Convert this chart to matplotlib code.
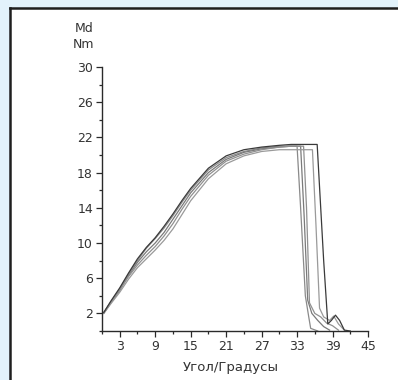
import matplotlib
matplotlib.use('Agg')
import matplotlib.pyplot as plt
from matplotlib.lines import Line2D
from matplotlib.patches import Rectangle
from matplotlib.ticker import MultipleLocator, FixedLocator

# angle (degrees) for the rising part, shared by all curves
rise_x = [0.3, 1.5, 3, 4.5, 6, 7.5, 9, 10.5, 12, 13.5, 15, 18, 21, 24, 27, 30, 32]

rise_y1 = [2.1, 3.3, 4.8, 6.5, 8.0, 9.4, 10.5, 11.7, 13.1, 14.6, 16.0, 18.3, 19.7, 20.4, 20.8, 21.0, 21.0]
rise_y2 = [2.0, 3.2, 4.6, 6.3, 7.8, 9.0, 10.0, 11.2, 12.7, 14.2, 15.7, 18.0, 19.5, 20.3, 20.7, 20.9, 21.0]
rise_y3 = [2.1, 3.3, 4.7, 6.2, 7.5, 8.6, 9.6, 10.8, 12.2, 13.8, 15.3, 17.7, 19.3, 20.1, 20.6, 20.9, 21.0]
rise_y4 = [2.0, 3.1, 4.4, 5.9, 7.2, 8.2, 9.2, 10.3, 11.6, 13.2, 14.8, 17.3, 19.0, 19.9, 20.4, 20.6, 20.6]
rise_y5 = [2.1, 3.4, 4.9, 6.6, 8.2, 9.5, 10.6, 11.9, 13.3, 14.8, 16.2, 18.5, 19.9, 20.6, 20.9, 21.1, 21.2]

# plateau end and fall to zero for each curve
fall_x1 = [33.0, 33.6, 34.4, 35.0, 35.3, 36.5]
fall_y1 = [21.0, 14.0, 4.0, 1.5, 0.3, 0.0]
fall_x2 = [33.6, 34.2, 34.8, 35.5, 36.5, 37.5, 38.5]
fall_y2 = [21.0, 13.0, 3.5, 2.0, 1.2, 0.5, 0.1]
fall_x3 = [34.1, 34.6, 35.1, 36.0, 37.0, 38.0, 39.0, 40.0]
fall_y3 = [21.0, 14.0, 3.2, 2.0, 1.6, 0.9, 0.6, 0.1]
fall_x4 = [35.6, 36.2, 36.8, 37.5, 38.5, 39.2, 40.0, 41.0]
fall_y4 = [20.6, 12.0, 2.6, 1.6, 1.2, 1.7, 0.8, 0.1]
fall_x5 = [36.4, 37.5, 38.2, 38.8, 39.5, 40.2, 41.0, 42.0]
fall_y5 = [21.2, 8.0, 0.8, 1.2, 1.8, 1.2, 0.1, 0.0]

curves = [
    (rise_x + fall_x1, rise_y1 + fall_y1, '#8a8a8a'),
    (rise_x + fall_x2, rise_y2 + fall_y2, '#7a7a7a'),
    (rise_x + fall_x3, rise_y3 + fall_y3, '#909090'),
    (rise_x + fall_x4, rise_y4 + fall_y4, '#9a9a9a'),
    (rise_x + fall_x5, rise_y5 + fall_y5, '#3a3a3a'),
]

x_major = [3, 9, 15, 21, 27, 33, 39, 45]
y_major = [2, 6, 10, 14, 18, 22, 26, 30]

W, H = 398, 380
fig = plt.figure(figsize=(W / 100, H / 100), dpi=100)
fig.patch.set_facecolor('#e2f2fb')

# white panel with dark frame on left and top
fig.patches.append(Rectangle((10 / W, 0), 1, 1 - 8 / H, transform=fig.transFigure,
                             facecolor='white', edgecolor='none', zorder=-2))
fig.lines.append(Line2D([10 / W, 10 / W], [0, 1 - 8 / H], transform=fig.transFigure,
                        color='#1e1e1e', lw=1.8, zorder=-1))
fig.lines.append(Line2D([10 / W, 1], [1 - 8 / H, 1 - 8 / H], transform=fig.transFigure,
                        color='#1e1e1e', lw=1.8, zorder=-1))

ax = fig.add_axes([102 / W, 1 - 331 / H, 266 / W, 264 / H])
ax.set_zorder(1)
ax.set_facecolor('none')

for xs, ys, c in curves:
    ax.plot(xs, ys, color=c, lw=0.9, solid_joinstyle='round')

ax.set_xlim(0, 45)
ax.set_ylim(0, 30)

for s in ['top', 'right']:
    ax.spines[s].set_visible(False)
for s in ['left', 'bottom']:
    ax.spines[s].set_color('#2a2a2a')
    ax.spines[s].set_linewidth(1.0)

ax.xaxis.set_major_locator(FixedLocator(x_major))
ax.xaxis.set_minor_locator(MultipleLocator(3))
ax.yaxis.set_major_locator(FixedLocator(y_major))
ax.yaxis.set_minor_locator(MultipleLocator(2))

ax.tick_params(which='major', direction='out', length=4.5, width=0.9,
               color='#2a2a2a', labelcolor='#333333', labelsize=9, pad=2)
ax.tick_params(which='minor', direction='out', length=2.5, width=0.9, color='#2a2a2a')

ax.set_xlabel('Угол/Градусы', fontsize=9.5, color='#333333')
ax.xaxis.set_label_coords((231 - 102) / 266, -(368 - 331) / 264)
ax.xaxis.label.set_va('center')

fig.text(84 / W, 1 - 28 / H, 'Md', ha='center', va='center', fontsize=9, color='#333333')
fig.text(84 / W, 1 - 45 / H, 'Nm', ha='center', va='center', fontsize=9, color='#333333')

fig.savefig('out.png', dpi=100)
